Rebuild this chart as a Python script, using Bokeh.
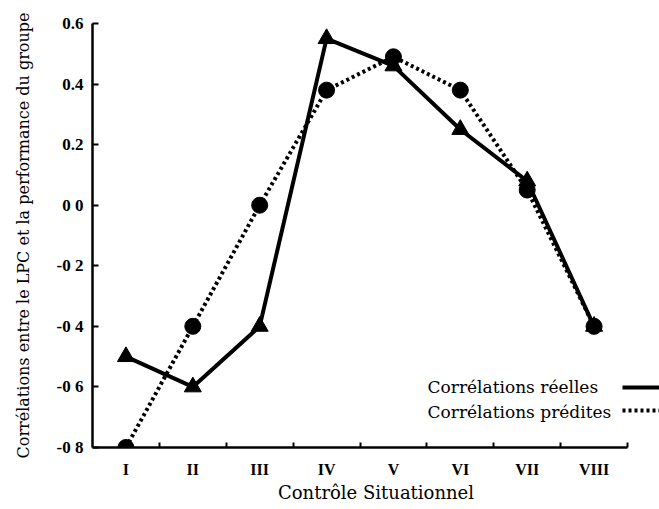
from bokeh.plotting import figure
from bokeh.models import Range1d, FixedTicker, Label, Legend, LegendItem
from bokeh.embed import file_html
from bokeh.resources import INLINE

# ---- data ----
categories = ["I", "II", "III", "IV", "V", "VI", "VII", "VIII"]
correlations_reelles = [-0.50, -0.60, -0.40, 0.55, 0.46, 0.25, 0.08, -0.40]
correlations_predites = [-0.80, -0.40, 0.00, 0.38, 0.49, 0.38, 0.05, -0.40]
y_ticks = [-0.8, -0.6, -0.4, -0.2, 0.0, 0.2, 0.4, 0.6]
y_tick_labels = ["-0 8", "-0 6", "-0 4", "-0 2", "0 0", "0.2", "0.4", "0.6"]

x_title = "Contrôle Situationnel"
y_title = "Corrélations entre le LPC et la performance du groupe"
legend_labels = ["Corrélations réelles", "Corrélations prédites"]

# category centres and boundaries on a numeric scale
n = len(categories)
xpos = [i + 0.5 for i in range(n)]
bounds = [i + 1 for i in range(n)]

TICK_FONT = "Liberation Serif"
TEXT_FONT = "DejaVu Serif"

# frame spans 92..659 px; the axis itself covers the 8 categories (92..627 px)
x_end = n * 567 / 535

p = figure(width=659, height=505, output_backend="svg", toolbar_location=None,
           x_range=Range1d(0, x_end), y_range=Range1d(-0.8, 0.6),
           min_border_left=92, min_border_right=0, min_border_top=23,
           min_border_bottom=40)
p.outline_line_color = None
p.xgrid.visible = False
p.ygrid.visible = False
p.background_fill_color = "white"
p.border_fill_color = "white"

# x axis: labels at category centres, small inner ticks at boundaries
p.xaxis.bounds = (0, n)
p.xaxis.ticker = FixedTicker(ticks=xpos, minor_ticks=bounds)
p.xaxis.major_label_overrides = {x: c for x, c in zip(xpos, categories)}
p.xaxis.major_tick_line_color = None
p.xaxis.major_tick_in = 0
p.xaxis.major_tick_out = 0
p.xaxis.minor_tick_in = 5
p.xaxis.minor_tick_out = 0
p.xaxis.minor_tick_line_width = 2
p.xaxis.minor_tick_line_color = "black"
p.xaxis.axis_line_width = 2.5
p.xaxis.axis_line_color = "black"
p.xaxis.major_label_standoff = 13
p.xaxis.major_label_text_font = TICK_FONT
p.xaxis.major_label_text_font_style = "bold"
p.xaxis.major_label_text_font_size = "16px"
p.xaxis.major_label_text_color = "black"
p.xaxis.axis_label = x_title
p.xaxis.axis_label_text_font = TEXT_FONT
p.xaxis.axis_label_text_font_style = "normal"
p.xaxis.axis_label_text_font_size = "18px"
p.xaxis.axis_label_text_color = "black"
p.xaxis.axis_label_standoff = 1

# y axis
p.yaxis.ticker = FixedTicker(ticks=y_ticks, minor_ticks=[])
p.yaxis.major_label_overrides = {v: t for v, t in zip(y_ticks, y_tick_labels)}
p.yaxis.major_tick_in = 6
p.yaxis.major_tick_out = 0
p.yaxis.major_tick_line_width = 2
p.yaxis.major_tick_line_color = "black"
p.yaxis.minor_tick_line_color = None
p.yaxis.axis_line_width = 2.5
p.yaxis.axis_line_color = "black"
p.yaxis.major_label_standoff = 9
p.yaxis.major_label_text_font = TICK_FONT
p.yaxis.major_label_text_font_style = "bold"
p.yaxis.major_label_text_font_size = "17px"
p.yaxis.major_label_text_color = "black"
p.yaxis.axis_label = y_title
p.yaxis.axis_label_text_font = TEXT_FONT
p.yaxis.axis_label_text_font_style = "normal"
p.yaxis.axis_label_text_font_size = "16px"
p.yaxis.axis_label_text_color = "black"
p.yaxis.axis_label_standoff = 21

# series
l_real = p.line(xpos, correlations_reelles, line_width=4, line_color="black")
p.scatter(xpos, correlations_reelles, marker="triangle", size=17,
          fill_color="black", line_color="black")
l_pred = p.line(xpos, correlations_predites, line_width=4, line_color="black",
                line_dash="3 3")
p.scatter(xpos, correlations_predites, marker="circle", size=16,
          fill_color="black", line_color="black")

# legend: text on the left (labels), line swatches on the right
for txt, yv in zip(legend_labels, [-0.601, -0.684]):
    p.add_layout(Label(x=5.01, y=yv, text=txt, text_align="left",
                       text_baseline="middle", text_font=TEXT_FONT,
                       text_font_size="17px", text_color="black"))

legend = Legend(items=[LegendItem(label=" ", renderers=[l_real]),
                       LegendItem(label=" ", renderers=[l_pred])],
                location=(530, 27), glyph_width=37, glyph_height=20,
                label_width=0, label_standoff=0, padding=0, margin=0,
                spacing=3, border_line_color=None, background_fill_alpha=0,
                label_text_font_size="1px")
p.add_layout(legend)

open("out.html", "w").write(file_html(p, INLINE))
